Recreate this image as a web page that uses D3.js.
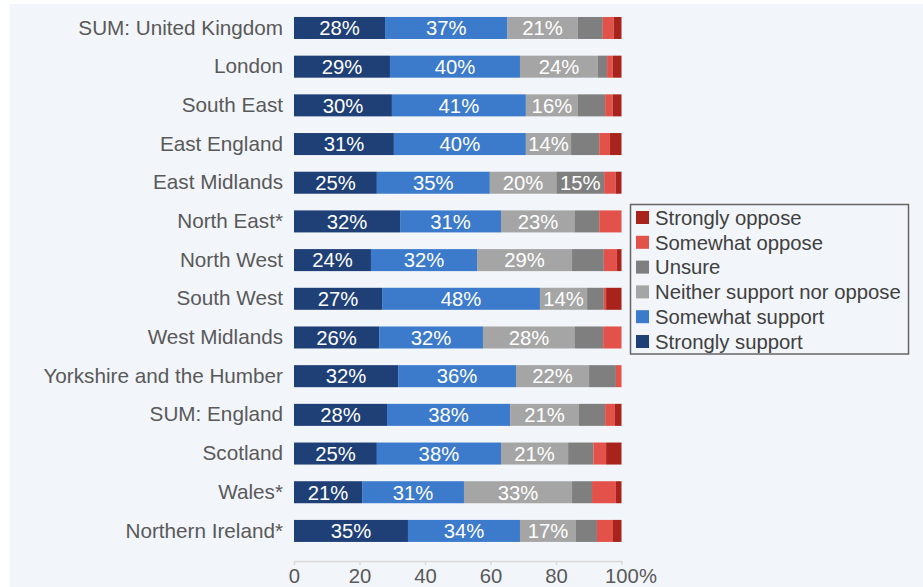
<!DOCTYPE html>
<html><head><meta charset="utf-8">
<script src="https://cdn.jsdelivr.net/npm/d3@7"></script>
<style>
html,body{margin:0;padding:0;background:#fff;}
svg{display:block;font-family:"Liberation Sans",Arial,sans-serif;}
</style></head>
<body><svg id="chart" width="923" height="587"></svg>
<script>
const regions = ["SUM: United Kingdom","London","South East","East England","East Midlands","North East*","North West","South West","West Midlands","Yorkshire and the Humber","SUM: England","Scotland","Wales*","Northern Ireland*"];
const seriesNames = ["Strongly support","Somewhat support","Neither support nor oppose","Unsure","Somewhat oppose","Strongly oppose"];
const seriesColors = ["#1f3f77","#3c7acb","#a5a5a5","#7f7f7f","#e3524a","#a8231b"];
const stronglySupport = [27.8,29.3,29.9,30.5,25.3,32.4,23.5,26.9,26.0,31.8,28.4,25.3,20.8,34.8];
const somewhatSupport = [37.4,39.7,40.9,40.3,34.5,30.8,32.4,48.2,31.7,36.0,37.6,37.9,31.1,34.2];
const neither =         [21.4,23.8,15.9,13.8,20.3,22.6,29.0,14.4,28.1,22.3,21.0,20.5,33.0,17.1];
const unsure =          [7.7, 2.8, 8.3, 8.6, 14.6,7.4, 9.7, 5.1, 8.6, 8.2, 8.0, 7.7, 6.1, 6.4];
const somewhatOppose =  [3.3, 1.7, 2.3, 3.3, 3.5, 6.8, 4.0, 0.7, 5.6, 1.7, 3.0, 3.9, 7.3, 4.9];
const stronglyOppose =  [2.4, 2.7, 2.7, 3.5, 1.8, 0.0, 1.4, 4.7, 0.0, 0.0, 2.0, 4.7, 1.7, 2.6];
const xTicks = [0,20,40,60,80,100];

const FS = 20.3;
const svg = d3.select("#chart");
svg.append("rect").attr("x",10).attr("y",4).attr("width",913).attr("height",583).attr("fill","#f2f5f9");

const values = [stronglySupport,somewhatSupport,neither,unsure,somewhatOppose,stronglyOppose];
const rows = regions.map((r,i)=>{const o={region:r}; seriesNames.forEach((s,j)=>o[s]=values[j][i]); return o;});
const stack = d3.stack().keys(seriesNames)(rows);

const x = d3.scaleLinear().domain([0,100]).range([294,621.5]);
const y = d3.scaleBand().domain(regions).range([0.3,558.6]).padding(0.431);
const color = d3.scaleOrdinal().domain(seriesNames).range(seriesColors);

const layers = svg.append("g").selectAll("g").data(stack).join("g").attr("fill",d=>color(d.key));
layers.selectAll("rect").data(d=>d).join("rect")
  .attr("x",d=>x(d[0])).attr("width",d=>Math.max(0,x(d[1])-x(d[0])))
  .attr("y",d=>y(d.data.region)).attr("height",y.bandwidth());

// value labels
const lab = svg.append("g").attr("font-size",FS).attr("fill","#fff").attr("text-anchor","middle");
stack.forEach(layer=>{
  layer.forEach(d=>{
    const v = d[1]-d[0];
    if(v>=10){
      lab.append("text").attr("x",(x(d[0])+x(d[1]))/2).attr("y",y(d.data.region)+y.bandwidth()/2)
        .attr("dy","0.36em").text(Math.round(v)+"%");
    }
  });
});

// y axis labels
const ya = svg.append("g").attr("transform","translate(283,0)")
  .call(d3.axisLeft(y).tickSize(0).tickPadding(0));
ya.select(".domain").remove();
ya.selectAll("text").attr("font-size",20.7).attr("fill","#595959").attr("font-family","Liberation Sans, Arial, sans-serif");

// x axis
const xa = svg.append("g").attr("transform","translate(0,561)")
  .call(d3.axisBottom(x).tickValues(xTicks).tickSize(4).tickPadding(4).tickSizeOuter(0).tickFormat(d=>d===100?"100%":d));
xa.select(".domain").attr("stroke","#d9d9d9").attr("stroke-width",1.5);
xa.selectAll(".tick line").attr("stroke","#d9d9d9").attr("stroke-width",1.5);
xa.selectAll("text").attr("font-size",FS).attr("fill","#595959").attr("font-family","Liberation Sans, Arial, sans-serif")
  .attr("dx",d=>d===100?9:0);

// legend
const lg = svg.append("g");
lg.append("rect").attr("x",630.5).attr("y",204.5).attr("width",278).attr("height",149.5)
  .attr("fill","none").attr("stroke","#666").attr("stroke-width",1.5);
const legendOrder = seriesNames.slice().reverse();
legendOrder.forEach((s,i)=>{
  const yy = 211 + i*24.8;
  lg.append("rect").attr("x",636).attr("y",yy).attr("width",13).attr("height",13).attr("fill",color(s));
  lg.append("text").attr("x",655).attr("y",yy+6.5).attr("dy","0.36em").attr("font-size",FS)
    .attr("fill","#404040").text(s);
});
</script></body></html>
